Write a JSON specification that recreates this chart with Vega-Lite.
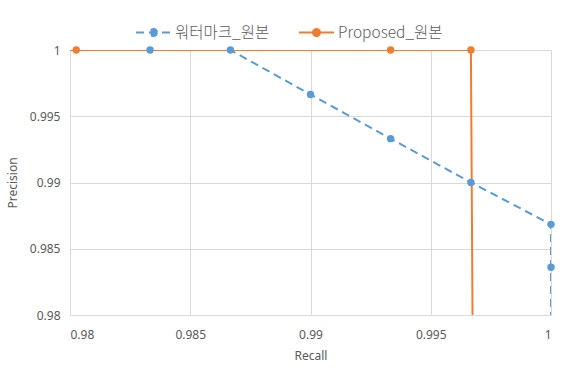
{
  "$schema": "https://vega.github.io/schema/vega-lite/v6.json",
  "width": 481,
  "height": 265,
  "autosize": {"type": "none"},
  "padding": {"left": 70, "top": 50, "right": 20, "bottom": 60},
  "background": "white",
  "config": {
    "view": {"stroke": null},
    "font": "Noto Sans",
    "axis": {
      "labelColor": "#595959",
      "titleColor": "#595959",
      "labelFontSize": 12,
      "titleFontSize": 12,
      "titleFontWeight": "normal",
      "gridColor": "#D9D9D9",
      "gridWidth": 1,
      "ticks": false,
      "labelFont": "Noto Sans",
      "titleFont": "Noto Sans"
    }
  },
  "data": {
    "values": [
      {"series": "워터마크_원본", "i": 1, "recall": 0.98333, "precision": 1.0},
      {"series": "워터마크_원본", "i": 2, "recall": 0.98667, "precision": 1.0},
      {"series": "워터마크_원본", "i": 3, "recall": 0.99, "precision": 0.99664},
      {"series": "워터마크_원본", "i": 4, "recall": 0.99333, "precision": 0.99331},
      {"series": "워터마크_원본", "i": 5, "recall": 0.99667, "precision": 0.99},
      {"series": "워터마크_원본", "i": 6, "recall": 1.0, "precision": 0.98684},
      {"series": "워터마크_원본", "i": 7, "recall": 1.0, "precision": 0.98361},
      {"series": "워터마크_원본", "i": 8, "recall": 1.0, "precision": 0.975},
      {"series": "Proposed_원본", "i": 1, "recall": 0.975, "precision": 1.0},
      {"series": "Proposed_원본", "i": 2, "recall": 0.98026, "precision": 1.0},
      {"series": "Proposed_원본", "i": 3, "recall": 0.99333, "precision": 1.0},
      {"series": "Proposed_원본", "i": 4, "recall": 0.99667, "precision": 1.0},
      {"series": "Proposed_원본", "i": 5, "recall": 0.99677, "precision": 0.97}
    ]
  },
  "encoding": {
    "x": {
      "field": "recall",
      "type": "quantitative",
      "title": "Recall",
      "scale": {"domain": [0.98, 1], "nice": false, "zero": false},
      "axis": {
        "values": [0.98, 0.985, 0.99, 0.995, 1],
        "format": "~g",
        "domainColor": "#D9D9D9",
        "labelPadding": 14,
        "titlePadding": 10
      }
    },
    "y": {
      "field": "precision",
      "type": "quantitative",
      "title": "Precision",
      "scale": {"domain": [0.98, 1], "nice": false, "zero": false},
      "axis": {
        "values": [0.98, 0.985, 0.99, 0.995, 1],
        "format": "~g",
        "domain": false,
        "labelPadding": 10,
        "titlePadding": 10
      }
    },
    "color": {
      "field": "series",
      "type": "nominal",
      "sort": ["워터마크_원본", "Proposed_원본"],
      "scale": {"domain": ["워터마크_원본", "Proposed_원본"], "range": ["#5B9BD5", "#ED7D31"]},
      "legend": {
        "title": null,
        "orient": "none",
        "direction": "horizontal",
        "legendX": 65,
        "legendY": -36,
        "labelFont": "Noto Sans CJK KR",
        "labelFontSize": 15.5,
        "labelFontWeight": 300,
        "labelColor": "#595959",
        "labelOffset": 3,
        "columnPadding": 25,
        "symbolType": "M-1,0H1M0.2,0A0.2,0.2,0,1,1,-0.2,0A0.2,0.2,0,1,1,0.2,0Z",
        "symbolSize": 1225,
        "symbolStrokeWidth": 2,
        "encode": {
          "symbols": {
            "update": {
              "fill": {"scale": "color", "field": "value"}
            }
          }
        }
      }
    },
    "order": {"field": "i", "type": "quantitative"}
  },
  "layer": [
    {
      "mark": {"type": "line", "strokeWidth": 2, "clip": true},
      "encoding": {
        "strokeDash": {
          "field": "series",
          "type": "nominal",
          "scale": {"domain": ["워터마크_원본", "Proposed_원본"], "range": [[8, 5], [1, 0]]},
          "legend": null
        }
      }
    },
    {
      "transform": [
        {"filter": "datum.recall >= 0.98 && datum.precision >= 0.98"}
      ],
      "mark": {"type": "point", "filled": true, "size": 55, "opacity": 1},
      "encoding": {}
    }
  ]
}
